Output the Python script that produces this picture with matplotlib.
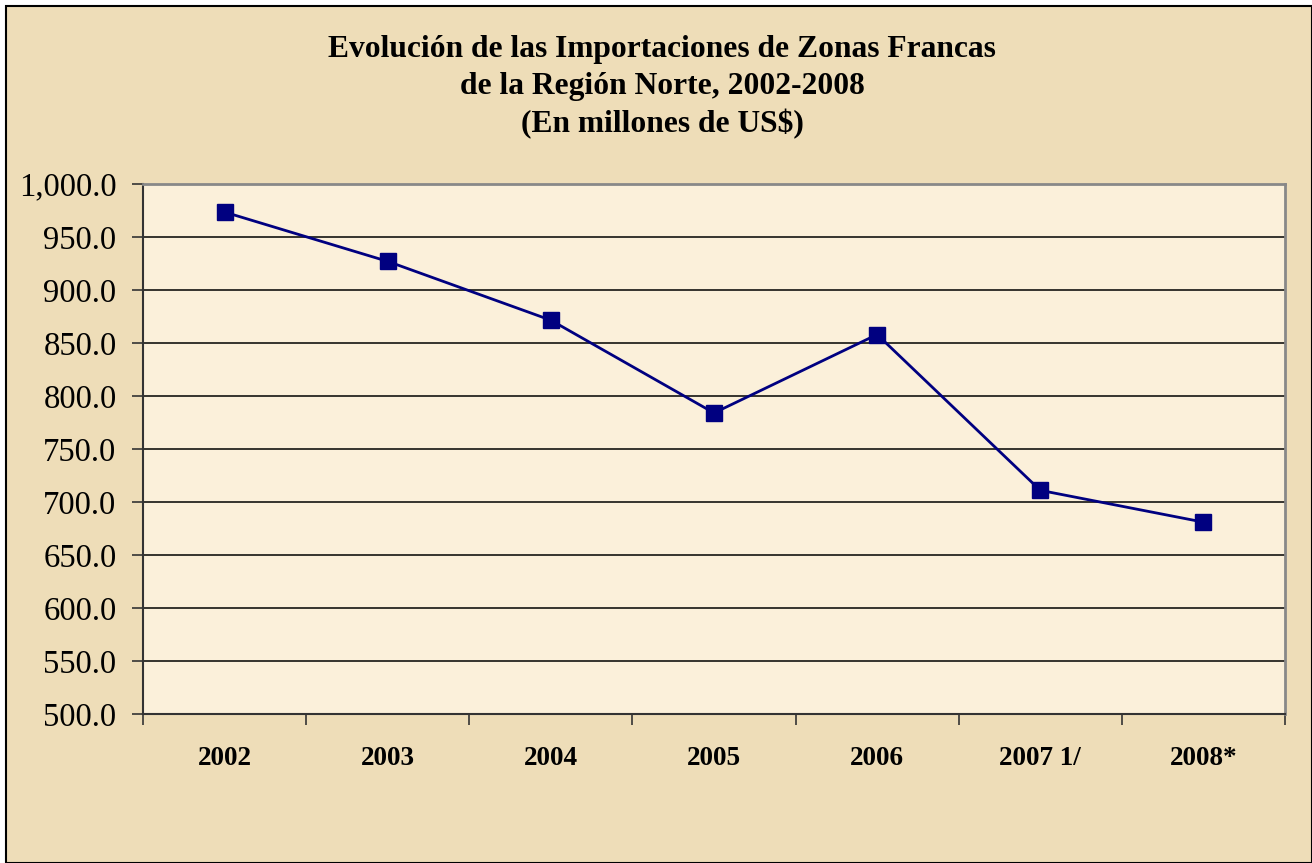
import matplotlib.pyplot as plt
import numpy as np
from matplotlib.ticker import FuncFormatter, FixedLocator
from matplotlib.patches import Rectangle

years = ["2002", "2003", "2004", "2005", "2006", "2007 1/", "2008*"]
imports = [973.5, 927.0, 871.5, 784.0, 858.0, 711.0, 681.0]

title = ("Evolución de las Importaciones de Zonas Francas\n"
         "de la Región Norte, 2002-2008\n"
         "(En millones de US$)")

plt.rcParams["font.family"] = ["Liberation Serif", "DejaVu Serif"]

fig = plt.figure(figsize=(13.12, 8.63), dpi=100)
fig.patch.set_facecolor("white")
# fondo tipo pergamino con borde negro
fig.patches.append(Rectangle((6 / 1312, 0), 1 - 6 / 1312, 1 - 6 / 863, transform=fig.transFigure,
                             facecolor="#EEDDB8", edgecolor="black", linewidth=1.5, zorder=-5))

ax = fig.add_axes([143 / 1312, 1 - 714 / 863, (1285 - 143) / 1312, (714 - 184) / 863])
ax.set_facecolor("#FBF0DA")

x = np.arange(len(years))
ax.plot(x, imports, color="#000080", linewidth=2.0, marker="s", markersize=11.5,
        markerfacecolor="#000080", markeredgecolor="#000080", zorder=3)

ax.set_ylim(500, 1000)
ax.set_xlim(-0.5, len(years) - 0.5)
ax.set_yticks(np.arange(500, 1001, 50))
ax.yaxis.set_major_formatter(FuncFormatter(lambda v, p: f"{v:,.1f}"))
ax.grid(axis="y", color="black", linewidth=1.1)
ax.set_axisbelow(True)

# categorias centradas, ticks en los limites
ax.set_xticks(x)
ax.set_xticklabels(years, fontweight="bold", fontsize=19.5)
ax.tick_params(axis="x", length=0, pad=23)
ax.xaxis.set_minor_locator(FixedLocator(np.arange(-0.5, len(years), 1)))
ax.tick_params(axis="x", which="minor", length=8, width=1.2, color="#333333", direction="out")
ax.tick_params(axis="y", length=8, width=1.2, color="#333333", labelsize=23.5, pad=11)

for side in ["left", "bottom"]:
    ax.spines[side].set_color("#333333")
    ax.spines[side].set_linewidth(1.5)
for side in ["top", "right"]:
    ax.spines[side].set_color("#888888")
    ax.spines[side].set_linewidth(2)

fig.text(662 / 1312, 1 - 35 / 863, title, ha="center", va="top", fontsize=22.7,
         fontweight="bold", linespacing=1.36)

fig.savefig("out.png", dpi=100, facecolor=fig.get_facecolor())
